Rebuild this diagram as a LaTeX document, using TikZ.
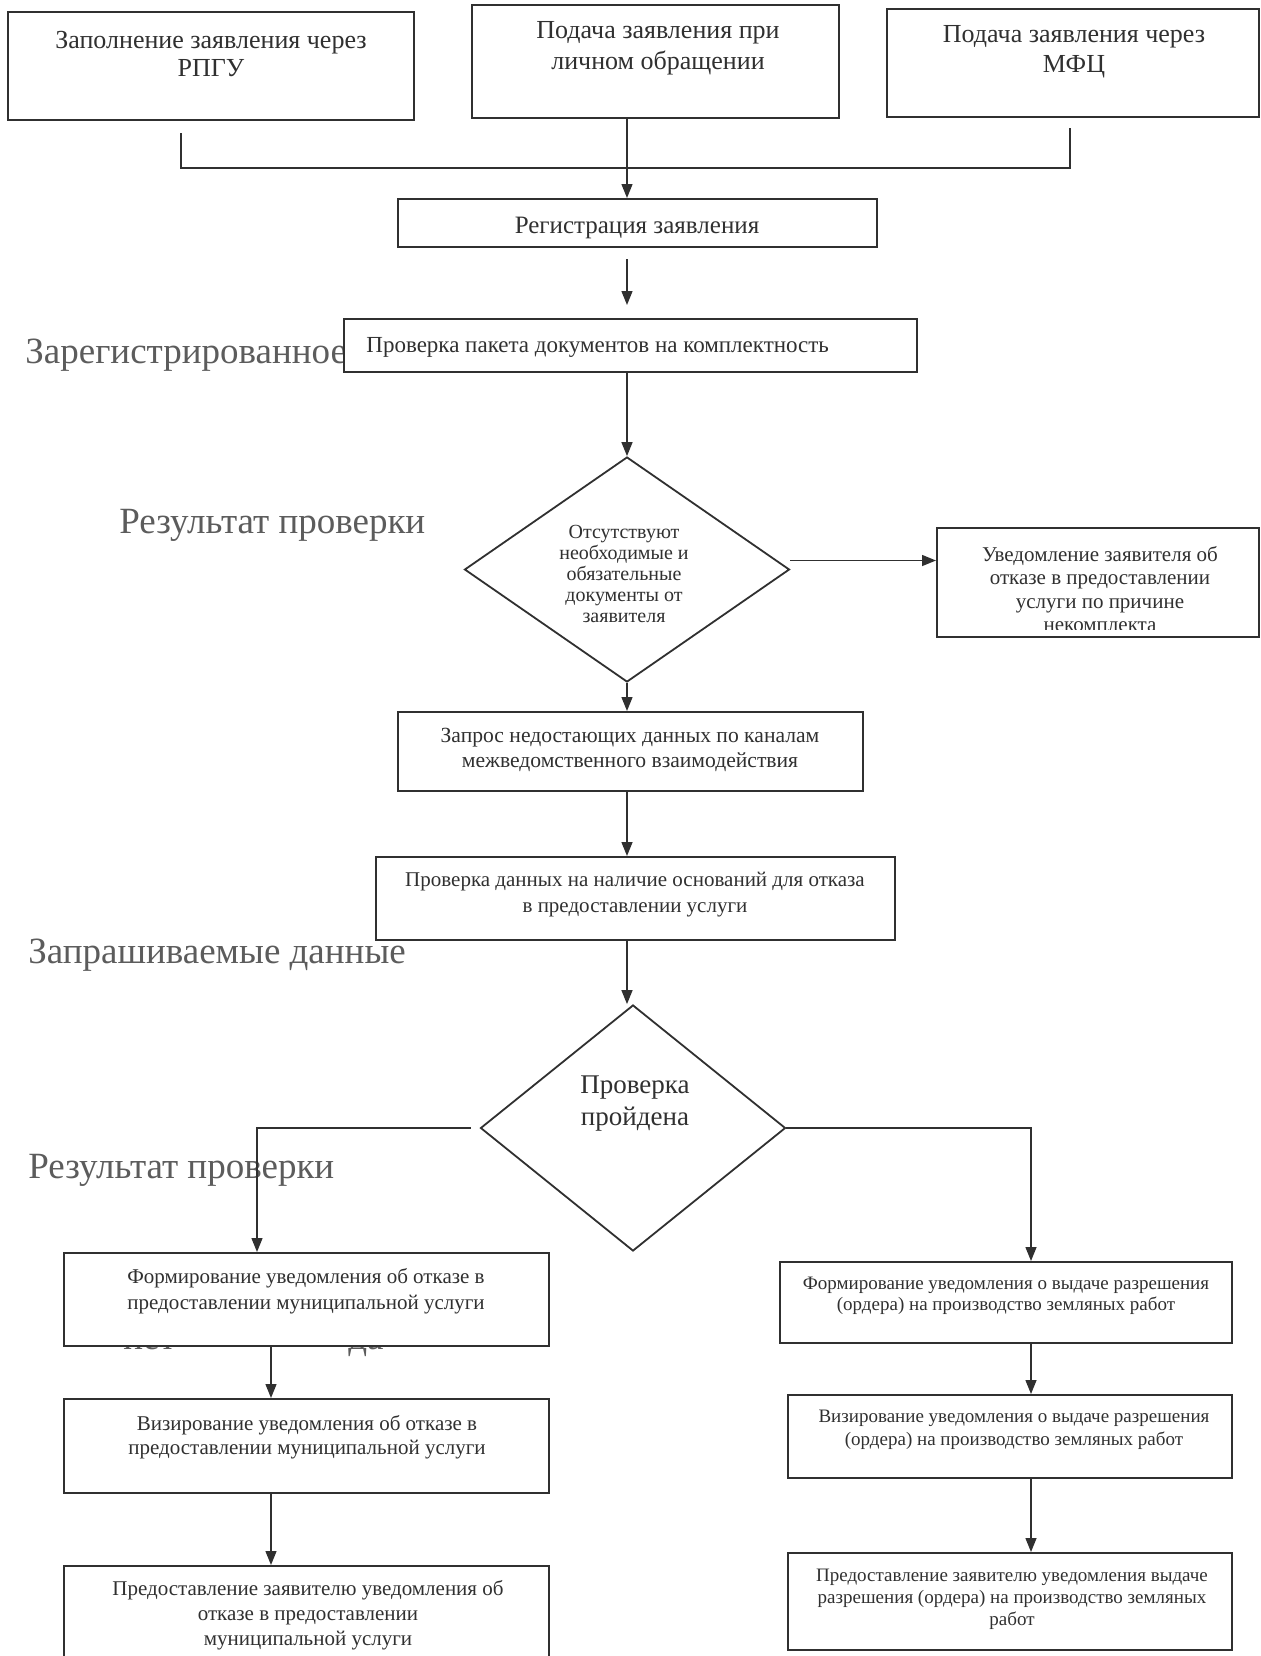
\documentclass[tikz,border=0pt]{standalone}
\usepackage{fontspec}
\setmainfont{Liberation Serif}
\usepackage{xcolor}
\usetikzlibrary{shapes,shapes.geometric,arrows.meta}
\definecolor{ink}{HTML}{303030}
\definecolor{faint}{HTML}{5C5C5C}

\begin{document}
\begin{tikzpicture}[x=0.5pt, y=-0.5pt,
                   box/.style={draw=ink, line width=1pt, fill=white, inner sep=0pt},
                   rhomb/.style={diamond, draw=ink, line width=0.9pt, fill=white, inner sep=0pt},
                   txt/.style={align=center, text=ink, inner sep=0pt},
                   big/.style={font=\fontsize{18.5}{22}\selectfont, text=faint, inner sep=0pt, anchor=base west},
                   line/.style={draw=ink, line width=0.7pt},
                   arr/.style={line, -{Triangle[length=7pt,width=5.5pt]}}]
\path[use as bounding box] (0,0) rectangle (1261,1656);
\clip (0,0) rectangle (1261,1656);

% labels lying behind the boxes
\node[big] (lreg)  at (25,363)   {Зарегистрированное};
\node[big] (lres1) at (119,533)  {Результат проверки};
\node[big] (lreq)  at (28,963)   {Запрашиваемые данные};
\node[big] (lres2) at (28,1178)  {Результат проверки};
\node[big] (lno)   at (123,1349) {нет};
\node[big] (lyes)  at (348,1349) {да};

% boxes
\node[box, minimum width=203pt, minimum height=54pt] (pa) at (211,66) {};
\node[box, minimum width=183.5pt, minimum height=56.5pt] (pb) at (655.5,61.5) {};
\node[box, minimum width=186pt, minimum height=54pt] (pc) at (1073,63) {};
\node[box, minimum width=239.5pt, minimum height=24pt] (reg) at (637.5,223) {};
\node[box, minimum width=286.5pt, minimum height=26.5pt] (chk) at (630.5,345.5) {};
\node[rhomb, minimum width=162.5pt, minimum height=112.5pt] (d1) at (627,569.5) {};
\node[box, minimum width=161pt, minimum height=54.5pt] (notify) at (1098,582.5) {};
\node[box, minimum width=232.5pt, minimum height=39.5pt] (req) at (630.5,751.5) {};
\node[box, minimum width=259.5pt, minimum height=41.5pt] (dat) at (635.5,898.5) {};
\node[rhomb, minimum width=152.5pt, minimum height=123pt] (d2) at (633,1128) {};
\node[box, minimum width=242.5pt, minimum height=46.5pt] (no1) at (306.5,1299.5) {};
\node[box, minimum width=242.5pt, minimum height=47pt] (no2) at (306.5,1446) {};
\node[box, minimum width=242.5pt, minimum height=67pt] (no3) at (306.5,1633) {};
\node[box, minimum width=226pt, minimum height=40.5pt] (yes1) at (1006,1302.5) {};
\node[box, minimum width=222pt, minimum height=41.5pt] (yes2) at (1010,1436.5) {};
\node[box, minimum width=222pt, minimum height=48.5pt] (yes3) at (1010,1601.5) {};

% texts
\node[txt, font=\fontsize{13}{14}\selectfont] (tpa) at (211,54) {Заполнение заявления через\\РПГУ};
\node[txt, font=\fontsize{13}{15.5}\selectfont] (tpb) at (658,48) {Подача заявления при\\личном обращении};
\node[txt, font=\fontsize{13}{15}\selectfont] (tpc) at (1074,52) {Подача заявления через\\МФЦ};
\node[txt, font=\fontsize{12.5}{15}\selectfont] (treg) at (637,228) {Регистрация заявления};
\node[txt, font=\fontsize{11.5}{14}\selectfont, anchor=west] (tchk) at (366,347) {Проверка пакета документов на комплектность};
\node[txt, font=\fontsize{10}{10.5}\selectfont] (td1) at (624,574) {Отсутствуют\\необходимые и\\обязательные\\документы от\\заявителя};
\begin{scope}
\clip (notify.north west) rectangle ([yshift=4.5pt]notify.south east);
\node[txt, font=\fontsize{10.5}{11.75}\selectfont] (tnot) at (1100,589) {Уведомление заявителя об\\отказе в предоставлении\\услуги по причине\\некомплекта};
\end{scope}
\node[txt, font=\fontsize{10.8}{12.5}\selectfont] (treq) at (630,750) {Запрос недостающих данных по каналам\\межведомственного взаимодействия};
\node[txt, font=\fontsize{10.5}{13}\selectfont] (tdat) at (635,895) {Проверка данных на наличие оснований для отказа\\в предоставлении услуги};
\node[txt, font=\fontsize{13.5}{16}\selectfont] (td2) at (635,1104) {Проверка\\пройдена};
\node[txt, font=\fontsize{10.5}{13}\selectfont] (tno1) at (306,1291) {Формирование уведомления об отказе в\\предоставлении муниципальной услуги};
\node[txt, font=\fontsize{10.5}{12}\selectfont] (tno2) at (307,1437) {Визирование уведомления об отказе в\\предоставлении муниципальной услуги};
\node[txt, font=\fontsize{10.5}{12.5}\selectfont] (tno3) at (308,1615) {Предоставление заявителю уведомления об\\отказе в предоставлении\\муниципальной услуги};
\node[txt, font=\fontsize{9.5}{10.5}\selectfont] (tyes1) at (1006,1296) {Формирование уведомления о выдаче разрешения\\(ордера) на производство земляных работ};
\node[txt, font=\fontsize{9.5}{11.5}\selectfont] (tyes2) at (1014,1430) {Визирование уведомления о выдаче разрешения\\(ордера) на производство земляных работ};
\node[txt, font=\fontsize{9.5}{11}\selectfont] (tyes3) at (1012,1599) {Предоставление заявителю уведомления выдаче\\разрешения (ордера) на производство земляных\\работ};

% connectors
\coordinate (col) at (627,0);
\coordinate (lcol) at (257,0);
\coordinate (lcol2) at (271,0);
\coordinate (rcol) at (1031,0);
\coordinate (ja) at (181,133);
\coordinate (jb) at (1070,128);
\coordinate (jm) at (627,168);
\draw[line] (ja) |- (jm) -| (jb);
\draw[arr] (pb.south -| col) -- (reg.north -| col);
\draw[arr, shorten <=5.5pt, shorten >=6.5pt] (reg.south -| col) -- (chk.north -| col);
\draw[arr] (chk.south -| col) -- (d1.north);
\draw[arr] ([yshift=4.5pt]d1.east) -- ([yshift=4.5pt]d1.east -| notify.west);
\draw[arr] (d1.south) -- (req.north -| d1.south);
\draw[arr] (req.south -| col) -- (dat.north -| col);
\draw[arr] (dat.south -| col) -- (d2.north -| col);
\draw[arr] ([xshift=-4.5pt]d2.west) -| (no1.north -| lcol);
\draw[arr] (d2.east) -| (yes1.north -| rcol);
\draw[arr] (no1.south -| lcol2) -- (no2.north -| lcol2);
\draw[arr] (no2.south -| lcol2) -- (no3.north -| lcol2);
\draw[arr] (yes1.south -| rcol) -- (yes2.north -| rcol);
\draw[arr] (yes2.south -| rcol) -- (yes3.north -| rcol);
\end{tikzpicture}
\end{document}
